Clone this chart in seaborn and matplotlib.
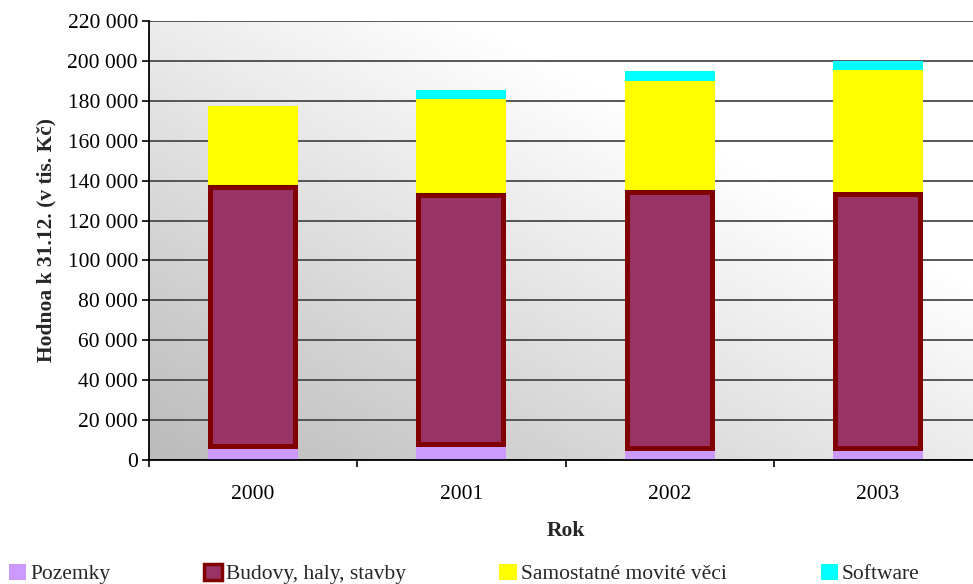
import numpy as np
import seaborn as sns
import matplotlib.pyplot as plt
from matplotlib.patches import Patch
from matplotlib.ticker import FuncFormatter, FixedLocator

# hodnoty v tis. Kč
roky = ["2000", "2001", "2002", "2003"]
pozemky = [5500, 6500, 4500, 4500]
budovy = [132500, 127300, 130800, 129800]
movite = [39500, 47200, 54700, 61200]
software = [0, 4500, 5000, 4500]

nazvy = ["Pozemky", "Budovy, haly, stavby", "Samostatné movité věci", "Software"]
barvy = ["#CC99FF", "#993366", "#FFFF00", "#00FFFF"]
okraj_budovy = "#800000"


def graph():
    sns.set_theme(style="white")
    plt.rcParams["font.family"] = ["Liberation Serif", "DejaVu Serif"]
    plt.rcParams["font.size"] = 15.5

    fig = plt.figure(figsize=(9.73, 5.84), dpi=100)
    ax = fig.add_axes([149 / 973, 1 - 460 / 584, 833 / 973, 439 / 584])

    # šedý přechod pozadí
    gx, gy = np.meshgrid(np.linspace(0, 1, 200), np.linspace(0, 1, 200))
    grad = 0.73 + 0.27 * np.clip((gx + gy) / 1.4, 0, 1)
    ax.imshow(grad, extent=[0, 1, 0, 1], transform=ax.transAxes, cmap="gray",
              vmin=0, vmax=1, aspect="auto", origin="lower", zorder=0)

    spodek = np.zeros(len(roky))
    vrstvy = [pozemky, budovy, movite, software]
    for i, hodnoty in enumerate(vrstvy):
        hodnoty = np.array(hodnoty, dtype=float)
        if i == 1:
            kw = dict(edgecolor=okraj_budovy, linewidth=7.2)
        else:
            kw = dict(linewidth=0)
        sns.barplot(x=roky, y=hodnoty, bottom=spodek, color=barvy[i], width=0.432,
                    saturation=1, errorbar=None, ax=ax, zorder=2, **kw)
        if i == 1:
            # okraj jen dovnitř sloupce
            for p in ax.containers[-1]:
                p.set_clip_path(p)
        spodek = spodek + hodnoty

    ax.set_xlim(-0.5, 3.5)
    ax.set_ylim(0, 220000)
    ax.set_yticks(np.arange(0, 220001, 20000))
    ax.yaxis.set_major_formatter(FuncFormatter(lambda v, p: f"{int(v):,}".replace(",", " ")))
    ax.grid(axis="y", color="#4a4a4a", linewidth=1.3, zorder=0.5)
    ax.set_axisbelow(True)

    ax.xaxis.set_minor_locator(FixedLocator([-0.5, 0.5, 1.5, 2.5]))
    ax.tick_params(axis="x", which="major", length=0, pad=18, labelsize=15.5, colors="black")
    ax.tick_params(axis="x", which="minor", bottom=True, length=5, width=1.2, color="black")
    ax.tick_params(axis="y", left=True, length=5, width=1.2, pad=3, labelsize=15.5,
                   colors="black")

    for s in ["top", "right"]:
        ax.spines[s].set_visible(False)
    for s in ["left", "bottom"]:
        ax.spines[s].set_color("black")
        ax.spines[s].set_linewidth(1.3)
        ax.spines[s].set_zorder(3)

    ax.set_xlabel("Rok", fontweight="bold", fontsize=15.5, labelpad=12)
    ax.set_ylabel("Hodnoa k 31.12. (v tis. Kč)", fontweight="bold", fontsize=15.5,
                  labelpad=8)

    handles = [Patch(facecolor=barvy[0], edgecolor="none"),
               Patch(facecolor=barvy[1], edgecolor=okraj_budovy, linewidth=2.5),
               Patch(facecolor=barvy[2], edgecolor="none"),
               Patch(facecolor=barvy[3], edgecolor="none")]
    fig.legend(handles, nazvy, loc="center left", bbox_to_anchor=(9 / 973, 0.017),
               ncol=4, frameon=False, fontsize=15.5, handlelength=0.8, handleheight=0.75,
               handletextpad=0.2, columnspacing=4.35, borderpad=0, borderaxespad=0)

    fig.savefig("out.png", dpi=100)


if __name__ == "__main__":
    graph()
